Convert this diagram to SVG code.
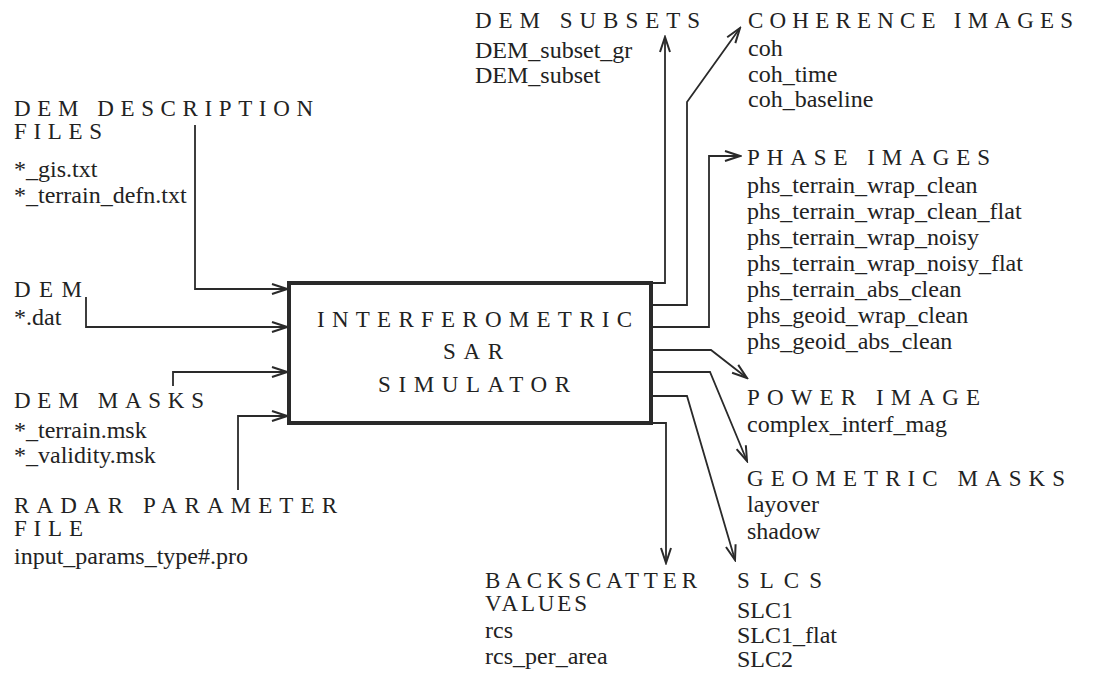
<svg xmlns="http://www.w3.org/2000/svg" width="1096" height="674" viewBox="0 0 1096 674">
<style>
text{font-family:"Liberation Serif","Times New Roman",serif;fill:#222}
.h{font-size:23px}
.t{font-size:24px}
.c{fill:none;stroke:#2a2a2a;stroke-width:1.8}
</style>
<defs>
<marker id="arr" viewBox="-17 -8 19 16" refX="0" refY="0" markerWidth="19" markerHeight="16" markerUnits="userSpaceOnUse" orient="auto">
<path d="M-15,-5 L0,0 L-15,5" fill="none" stroke="#2a2a2a" stroke-width="2"/>
</marker>
</defs>
<rect width="1096" height="674" fill="#fff"/>
<g id="connectors">
<path class="c" marker-end="url(#arr)" d="M195,125 V289 H287"/>
<path class="c" marker-end="url(#arr)" d="M86,297 V327 H287"/>
<path class="c" marker-end="url(#arr)" d="M173,386 V372 H287"/>
<path class="c" marker-end="url(#arr)" d="M238,490 V416 H287"/>
<path class="c" marker-end="url(#arr)" d="M651,283 H665 V37"/>
<path class="c" marker-end="url(#arr)" d="M651,305 H687 V102 L740,28"/>
<path class="c" marker-end="url(#arr)" d="M651,327 H709 V156 H740"/>
<path class="c" marker-end="url(#arr)" d="M651,350 H711 L747,378"/>
<path class="c" marker-end="url(#arr)" d="M651,372 H710 L747,461"/>
<path class="c" marker-end="url(#arr)" d="M651,396 H687 L735,560"/>
<path class="c" marker-end="url(#arr)" d="M651,423 H666 V563"/>
</g>
<g id="simulator">
<rect x="289" y="283" width="362" height="140" fill="none" stroke="#2a2a2a" stroke-width="4"/>
<text class="h" x="317" y="327" textLength="315">INTERFEROMETRIC</text>
<text class="h" x="443" y="359" textLength="60">SAR</text>
<text class="h" x="378" y="392" textLength="192">SIMULATOR</text>
</g>
<g id="dem-description">
<text class="h" x="14" y="116" textLength="299">DEM DESCRIPTION</text>
<text class="h" x="14" y="139" textLength="88">FILES</text>
<text class="t" x="14" y="177">*_gis.txt</text>
<text class="t" x="14" y="203">*_terrain_defn.txt</text>
</g>
<g id="dem">
<text class="h" x="14" y="297" textLength="68">DEM</text>
<text class="t" x="14" y="325">*.dat</text>
</g>
<g id="dem-masks">
<text class="h" x="14" y="408" textLength="190">DEM MASKS</text>
<text class="t" x="14" y="438">*_terrain.msk</text>
<text class="t" x="14" y="463">*_validity.msk</text>
</g>
<g id="radar">
<text class="h" x="14" y="513" textLength="323">RADAR PARAMETER</text>
<text class="h" x="14" y="536" textLength="69">FILE</text>
<text class="t" x="14" y="564">input_params_type#.pro</text>
</g>
<g id="dem-subsets">
<text class="h" x="475" y="28" textLength="225">DEM SUBSETS</text>
<text class="t" x="475" y="58">DEM_subset_gr</text>
<text class="t" x="475" y="83">DEM_subset</text>
</g>
<g id="coherence">
<text class="h" x="748" y="28" textLength="325">COHERENCE IMAGES</text>
<text class="t" x="748" y="56">coh</text>
<text class="t" x="748" y="82">coh_time</text>
<text class="t" x="748" y="107">coh_baseline</text>
</g>
<g id="phase">
<text class="h" x="747" y="165" textLength="243">PHASE IMAGES</text>
<text class="t" x="747" y="193">phs_terrain_wrap_clean</text>
<text class="t" x="747" y="219">phs_terrain_wrap_clean_flat</text>
<text class="t" x="747" y="245">phs_terrain_wrap_noisy</text>
<text class="t" x="747" y="271">phs_terrain_wrap_noisy_flat</text>
<text class="t" x="747" y="297">phs_terrain_abs_clean</text>
<text class="t" x="747" y="323">phs_geoid_wrap_clean</text>
<text class="t" x="747" y="349">phs_geoid_abs_clean</text>
</g>
<g id="power">
<text class="h" x="747" y="405" textLength="233">POWER IMAGE</text>
<text class="t" x="747" y="432">complex_interf_mag</text>
</g>
<g id="geometric">
<text class="h" x="747" y="486" textLength="318">GEOMETRIC MASKS</text>
<text class="t" x="747" y="512">layover</text>
<text class="t" x="747" y="539">shadow</text>
</g>
<g id="backscatter">
<text class="h" x="485" y="588" textLength="212">BACKSCATTER</text>
<text class="h" x="485" y="611" textLength="102">VALUES</text>
<text class="t" x="485" y="638">rcs</text>
<text class="t" x="485" y="664">rcs_per_area</text>
</g>
<g id="slcs">
<text class="h" x="737" y="588" textLength="85">SLCS</text>
<text class="t" x="737" y="618">SLC1</text>
<text class="t" x="737" y="643">SLC1_flat</text>
<text class="t" x="737" y="667">SLC2</text>
</g>
</svg>
